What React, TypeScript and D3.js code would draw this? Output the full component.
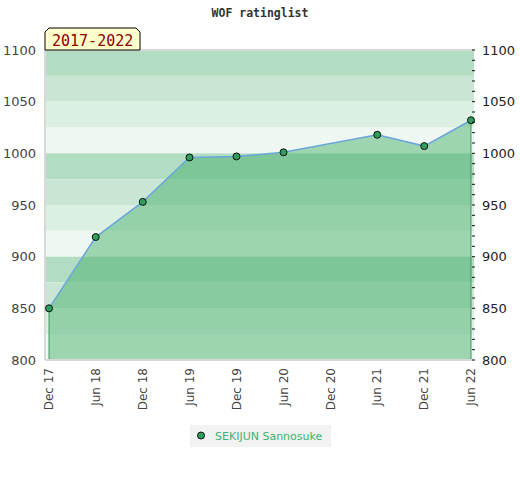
import React from "react";
import * as d3 from "d3";

const title = "WOF ratinglist";
const periodLabel = "2017-2022";
const playerName = "SEKIJUN Sannosuke";

// rating list months and the player's rating
const months = ["2017-12", "2018-06", "2018-12", "2019-06", "2019-12", "2020-06", "2021-06", "2021-12", "2022-06"];
const ratings = [850, 919, 953, 996, 997, 1001, 1018, 1007, 1032];

const xTicks = ["2017-12", "2018-06", "2018-12", "2019-06", "2019-12", "2020-06", "2020-12", "2021-06", "2021-12", "2022-06"];
const yTicks = [800, 850, 900, 950, 1000, 1050, 1100];

const width = 520;
const height = 480;
const plot = { left: 45, right: 474, top: 50, bottom: 360 };

const parse = d3.timeParse("%Y-%m");
const fmt = d3.timeFormat("%b %y");

const bandColors = ["#b3ddc3", "#c9e6d4", "#dcefe3", "#eef7f1"];

const App: React.FC = () => {
  const data = months.map((m, i) => ({ date: parse(m) as Date, value: ratings[i] }));

  const x = d3
    .scaleTime()
    .domain([parse(xTicks[0]) as Date, parse(xTicks[xTicks.length - 1]) as Date])
    .range([49, 471]);

  const y = d3.scaleLinear().domain([800, 1100]).range([plot.bottom, plot.top]);

  const bands = d3.range(1100, 800, -25).map((top, i) => ({ top, bottom: top - 25, color: bandColors[i % 4] }));
  const minorTicks = d3.range(800, 1101, 10);

  const line = d3
    .line<{ date: Date; value: number }>()
    .x((d) => x(d.date))
    .y((d) => y(d.value));

  const area = d3
    .area<{ date: Date; value: number }>()
    .x((d) => x(d.date))
    .y0(y(800))
    .y1((d) => y(d.value));

  const first = data[0];
  const last = data[data.length - 1];

  return (
    <svg
      width={width}
      height={height}
      style={{ position: "absolute", left: 0, top: 0, background: "#fff" }}
    >
      <text
        x={260}
        y={17}
        textAnchor="middle"
        fontFamily="DejaVu Sans Mono"
        fontWeight="bold"
        fontSize={11.5}
        fill="#333"
      >
        {title}
      </text>

      {/* background bands */}
      {bands.map((b) => (
        <rect
          key={b.top}
          x={plot.left}
          y={y(b.top)}
          width={plot.right - plot.left}
          height={y(b.bottom) - y(b.top)}
          fill={b.color}
        />
      ))}

      <path d={area(data) ?? ""} fill="rgb(60,170,100)" fillOpacity={0.45} />
      {/* vertical edges of the area */}
      <line x1={x(first.date)} x2={x(first.date)} y1={y(first.value)} y2={plot.bottom} stroke="#3a9a5a" />
      <line x1={x(last.date)} x2={x(last.date)} y1={y(last.value)} y2={plot.bottom} stroke="#3a9a5a" />

      {/* frame */}
      <line x1={plot.left} x2={plot.right} y1={plot.top} y2={plot.top} stroke="#d8d8d8" strokeWidth={2} />
      <line x1={plot.left} x2={plot.right} y1={plot.bottom} y2={plot.bottom} stroke="#d8d8d8" strokeWidth={2} />
      <line x1={plot.left} x2={plot.left} y1={plot.top} y2={plot.bottom} stroke="#d8d8d8" strokeWidth={2} />

      <path d={line(data) ?? ""} fill="none" stroke="#6aa6dc" strokeWidth={1.5} />

      {data.map((d, i) => (
        <circle key={i} cx={x(d.date)} cy={y(d.value)} r={3.5} fill="#2e9e5b" stroke="#111" strokeWidth={1} />
      ))}

      {/* right axis ticks */}
      {minorTicks.map((t) => (
        <line key={t} x1={472} x2={475} y1={y(t)} y2={y(t)} stroke="#111" />
      ))}

      {yTicks.map((t) => (
        <g key={t}>
          <text x={36} y={y(t)} dy="0.35em" textAnchor="end" fontFamily="DejaVu Sans" fontSize={13} fill="#444">
            {t}
          </text>
          <text x={482} y={y(t)} dy="0.35em" textAnchor="start" fontFamily="DejaVu Sans" fontSize={13} fill="#222">
            {t}
          </text>
        </g>
      ))}

      {xTicks.map((t) => {
        const px = x(parse(t) as Date);
        return (
          <text
            key={t}
            transform={`translate(${px},368) rotate(-90)`}
            dy="0.35em"
            textAnchor="end"
            fontFamily="DejaVu Sans"
            fontSize={12}
            fill="#444"
          >
            {fmt(parse(t) as Date)}
          </text>
        );
      })}

      {/* period label */}
      <path d="M45,50 L45,32 L49,28 L136,28 L140,32 L140,50 Z" fill="#ffffcc" stroke="#000" strokeWidth={1} />
      <text x={52} y={46} fontFamily="DejaVu Sans Mono" fontSize={15} fill="#8b0000">
        {periodLabel}
      </text>

      {/* legend */}
      <rect x={190} y={425} width={141} height={22} fill="#f2f2f2" />
      <circle cx={201} cy={435.5} r={3.5} fill="#2e9e5b" stroke="#111" />
      <text x={215} y={440} fontFamily="DejaVu Sans" fontSize={11} fill="#3cb371">
        {playerName}
      </text>
    </svg>
  );
};

export default App;
